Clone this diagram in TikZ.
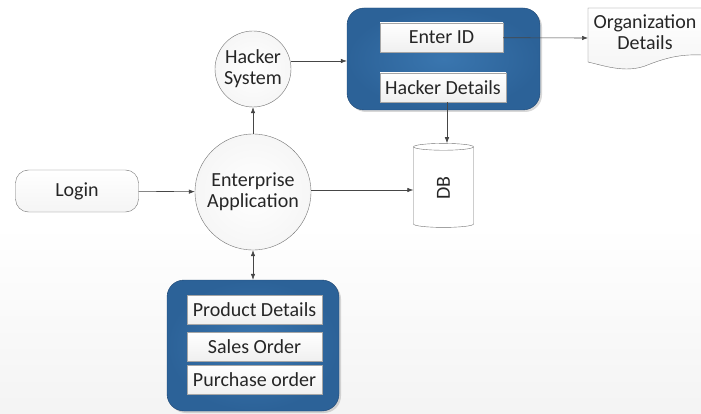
\documentclass[tikz,border=0pt]{standalone}
\usepackage{fontspec}
\setmainfont{Carlito}
\usetikzlibrary{arrows.meta,shapes.geometric,shadows}
\definecolor{panelblue}{RGB}{44,98,152}
\definecolor{paneledge}{RGB}{32,72,115}
\definecolor{linegray}{RGB}{70,70,70}
\definecolor{edgegray}{RGB}{115,115,115}
\tikzset{
  lbl/.style={font=\fontsize{20}{21}\selectfont, text=black!85},
  bubble/.style={circle, draw=edgegray, inner color=white, outer color=gray!7, lbl, align=center, inner sep=0pt},
  pill/.style={rounded corners=13pt, draw=edgegray, top color=white, bottom color=gray!8, lbl},
  panel/.style={rounded corners=17pt, draw=paneledge, inner color={rgb,255:red,58;green,118;blue,175}, outer color=panelblue,
    drop shadow={shadow xshift=2pt, shadow yshift=-2pt, opacity=0.3}},
  field/.style={draw=gray!70, top color=white, bottom color=gray!12, lbl, minimum height=29pt, inner sep=0pt},
  flow/.style={draw=linegray, line width=0.6pt, -{Latex[length=6pt,width=4.5pt]}},
  flow2/.style={draw=linegray, line width=0.6pt, {Latex[length=6pt,width=4.5pt]}-{Latex[length=6pt,width=4.5pt]}},
}
\begin{document}
\begin{tikzpicture}[x=1pt,y=-1pt]
  % canvas with the soft grey fade at the bottom
  \useasboundingbox (0,0) rectangle (701,414);
  \fill[white] (0,0) rectangle (701,414);
  \shade[top color=white, bottom color=gray!9] (0,225) rectangle (701,414);

  % central process bubbles
  \node[bubble, minimum size=76pt] (hs) at (253,69) {Hacker\\System};
  \node[bubble, minimum size=116pt] (ea) at (253,192) {Enterprise\\Application};

  % login entry
  \node[pill, minimum width=123pt, minimum height=42pt] (login) at (77,191) {Login};

  % hacker panel
  \node[panel, minimum width=193pt, minimum height=102pt] (topbox) at (443.5,59) {};
  \node[field, minimum width=123pt] (enterid) at (441.5,37.5) {Enter ID};
  \node[field, minimum width=126pt] (hackdet) at (443,87.5) {Hacker Details};

  % enterprise panel
  \node[panel, minimum width=172pt, minimum height=131pt] (botbox) at (253,345.5) {};
  \node[field, minimum width=135pt] (prod) at (254.5,309.5) {Product Details};
  \node[field, minimum width=135pt] (sales) at (254.5,346.5) {Sales Order};
  \node[field, minimum width=135pt] (purch) at (254.5,380) {Purchase order};

  % document shape
  \draw[draw=edgegray, top color=white, bottom color=gray!8]
    (588,8) -- (702,8) -- (702,55)
    .. controls (680,54) and (665,58) .. (645,66)
    .. controls (625,73) and (605,66) .. (588,62) -- cycle;
  \node[lbl, align=center] (org) at (645,32) {Organization\\Details};
  \coordinate (orgin) at (588,38);

  % database
  \node[cylinder, shape border rotate=90, aspect=0.35, draw=edgegray, fill=white,
        minimum width=60pt, minimum height=84pt, lbl] (db) at (443.5,188) {\rotatebox{90}{DB}};

  % connectors
  \draw[flow] (login) -- (ea);
  \draw[flow] (ea) -- (hs);
  \draw[flow] (hs.east |- 0,61) -- (topbox.west |- 0,61);
  \draw[flow] (enterid) -- (orgin);
  \draw[flow] (hackdet.south -| 447,0) -- (db.north -| 447,0);
  \draw[flow] (ea.east |- 0,190) -- (db.west |- 0,190);
  \draw[flow2] (ea) -- (botbox);
\end{tikzpicture}
\end{document}
